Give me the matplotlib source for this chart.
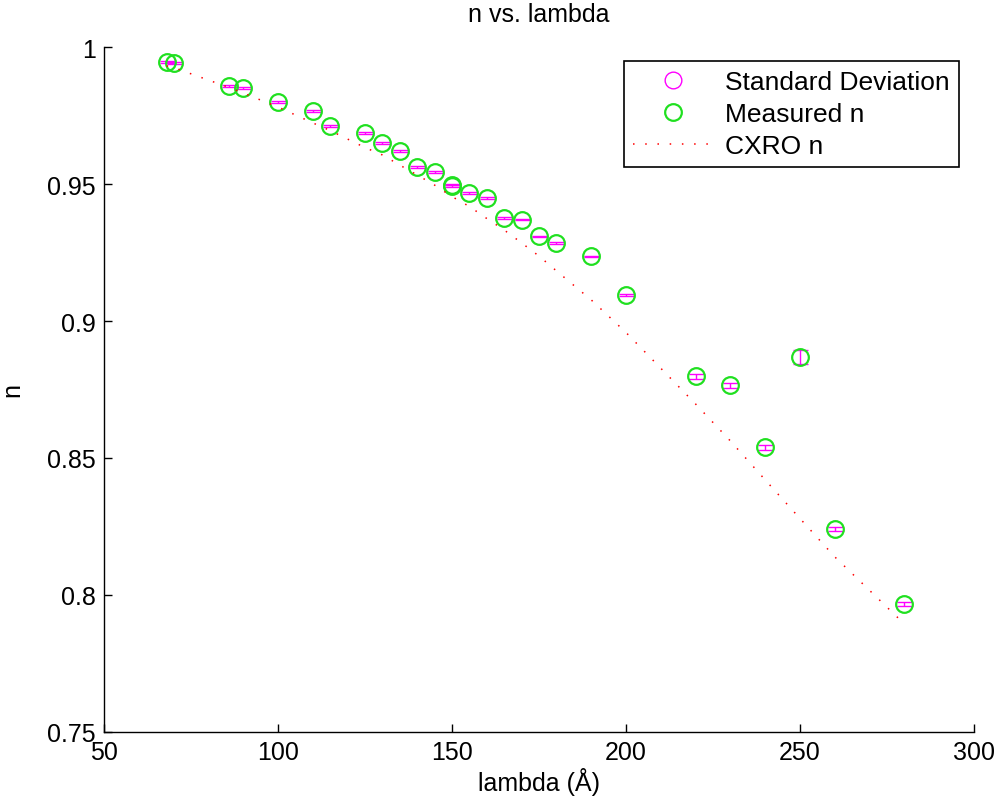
import matplotlib
matplotlib.use("Agg")
import matplotlib.pyplot as plt
from matplotlib.lines import Line2D
from matplotlib.ticker import FuncFormatter

plt.rcParams['font.family'] = ['Liberation Sans', 'DejaVu Sans']

# measured refractive index with standard deviation
lam = [68, 70, 86, 90, 100, 110, 115, 125, 130, 135, 140, 145, 150, 150,
       155, 160, 165, 170, 175, 180, 190, 200, 220, 230, 240, 250, 260, 280]
n_meas = [0.9945, 0.9942, 0.9858, 0.9850, 0.9799, 0.9766, 0.9712, 0.9686,
          0.9650, 0.9620, 0.9562, 0.9544, 0.9498, 0.9492, 0.9467, 0.9449,
          0.9376, 0.9369, 0.9310, 0.9285, 0.9237, 0.9095, 0.8799, 0.8766,
          0.8540, 0.8869, 0.8241, 0.7967]
n_std = [0.0004, 0.0004, 0.0003, 0.0004, 0.0004, 0.0004, 0.0003, 0.0004,
         0.0004, 0.0003, 0.0004, 0.0004, 0.0003, 0.0003, 0.0003, 0.0005,
         0.0004, 0.0002, 0.0002, 0.0003, 0.0002, 0.0002, 0.0009, 0.0009,
         0.0009, 0.0025, 0.0008, 0.0009]

# CXRO tabulated values
lam_cxro = [68, 70, 86, 90, 100, 110, 115, 125, 130, 135, 140, 145, 150,
            155, 160, 165, 170, 175, 180, 190, 200, 220, 230, 240, 250, 260, 280]
n_cxro = [0.9931, 0.9925, 0.9852, 0.9832, 0.9781, 0.9723, 0.9695, 0.9633,
          0.9606, 0.9569, 0.9533, 0.9496, 0.9454, 0.9418, 0.9374, 0.9332,
          0.9285, 0.9237, 0.9183, 0.9077, 0.8958, 0.8697, 0.8562, 0.8420,
          0.8279, 0.8139, 0.7894]

fig = plt.figure(figsize=(9.99, 8.03), dpi=100)
ax = fig.add_axes([0.1041, 0.0872, 0.8709, 0.853])

mag = '#ff00ff'
grn = '#20e020'
ms = 12

ax.errorbar(lam, n_meas, yerr=n_std, fmt='none', ecolor=mag,
            capsize=5.4, elinewidth=1, capthick=1)
ax.plot(lam, n_meas, 'o', mfc='none', mec=grn, ms=ms, mew=1.6)
ax.plot(lam_cxro, n_cxro, color='red', lw=1.1, linestyle=(0, (1, 7)))

ax.set_xlim(50, 300)
ax.set_ylim(0.75, 1.0)
ax.set_xticks([50, 100, 150, 200, 250, 300])
ax.set_yticks([0.75, 0.8, 0.85, 0.9, 0.95, 1.0])
ax.yaxis.set_major_formatter(FuncFormatter(lambda v, p: f"{v:g}"))

for s in ['top', 'right']:
    ax.spines[s].set_visible(False)
for s in ['left', 'bottom']:
    ax.spines[s].set_linewidth(1)
ax.tick_params(direction='in', length=6, width=1, labelsize=18, pad=6)

# title placed in figure coords so it sits close to the top edge
fig.text(0.539, 0.981, 'n vs. lambda', fontsize=18, ha='center', va='center')
ax.set_xlabel('lambda (Å)', fontsize=18, labelpad=2)
ax.set_ylabel('n', fontsize=18, labelpad=16)

handles = [
    Line2D([], [], marker='o', ls='none', mec=mag, mfc='none', ms=ms),
    Line2D([], [], marker='o', ls='none', mec=grn, mfc='none', ms=ms, mew=1.6),
    Line2D([], [], color='red', lw=1.1, linestyle=(0, (1, 7))),
]
leg = ax.legend(handles, ['Standard Deviation', 'Measured n', 'CXRO n'],
                loc='upper right', bbox_to_anchor=(0.983, 0.98), fontsize=19,
                fancybox=False, framealpha=1, edgecolor='black',
                borderaxespad=0, handlelength=3.0, labelspacing=0.3,
                borderpad=0.35, handletextpad=0.5)
leg.get_frame().set_linewidth(1.2)

fig.savefig('out.png', dpi=100)
